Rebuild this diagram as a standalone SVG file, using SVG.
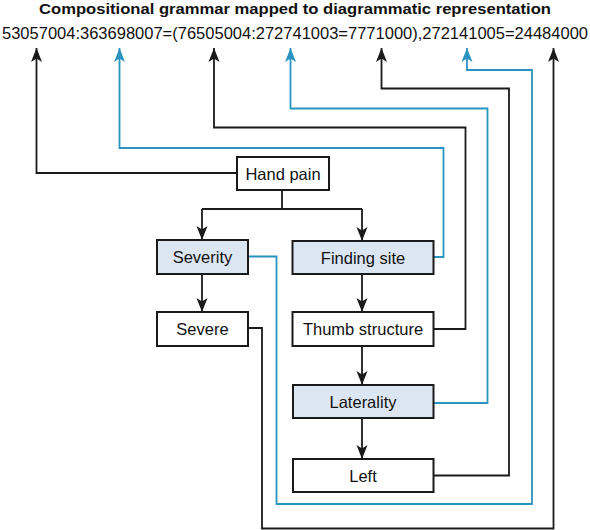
<svg xmlns="http://www.w3.org/2000/svg" width="590" height="530" viewBox="0 0 590 530">
<style>
.t{font-family:"Liberation Sans",Arial,sans-serif;fill:#111}
.box{stroke:#1a1a1a;stroke-width:2}
.w{fill:#fff}
.b{fill:#dce6f2}
.lbl{font-size:16.5px;text-anchor:middle}
.k{fill:none;stroke:#1a1a1a;stroke-width:1.8}
.c{fill:none;stroke:#2a93c0;stroke-width:1.8}
</style>
<defs>
<marker id="ak" markerUnits="userSpaceOnUse" markerWidth="16" markerHeight="12" viewBox="-15 -6 16 12" refX="0" refY="0" orient="auto"><path d="M0,0 L-14,-5.5 L-10.5,0 L-14,5.5 z" fill="#1a1a1a"/></marker>
<marker id="ac" markerUnits="userSpaceOnUse" markerWidth="16" markerHeight="12" viewBox="-15 -6 16 12" refX="0" refY="0" orient="auto"><path d="M0,0 L-14,-5.5 L-10.5,0 L-14,5.5 z" fill="#2a93c0"/></marker>
</defs>
<rect width="590" height="530" fill="#fff"/>
<text class="t" x="295" y="14" font-size="15.5" font-weight="bold" text-anchor="middle" textLength="512" lengthAdjust="spacingAndGlyphs">Compositional grammar mapped to diagrammatic representation</text>
<text class="t" x="2" y="38.5" font-size="16" textLength="586" lengthAdjust="spacingAndGlyphs">53057004:363698007=(76505004:272741003=7771000),272141005=24484000</text>
<g id="connectors">
<path class="k" d="M282,190 V209 M202,209 H362"/>
<path class="k" d="M202,209 V240" marker-end="url(#ak)"/>
<path class="k" d="M362,209 V241" marker-end="url(#ak)"/>
<path class="k" d="M202,274 V312" marker-end="url(#ak)"/>
<path class="k" d="M362,274 V312" marker-end="url(#ak)"/>
<path class="k" d="M362,346 V385" marker-end="url(#ak)"/>
<path class="k" d="M362,418 V459" marker-end="url(#ak)"/>
<path class="k" d="M237,173 H36.5 V48" marker-end="url(#ak)"/>
<path class="c" d="M433,257 H443.5 V148 H119.5 V48" marker-end="url(#ac)"/>
<path class="k" d="M433,329 H465.5 V127.5 H214 V48" marker-end="url(#ak)"/>
<path class="c" d="M433,403 H487.5 V108.5 H290.5 V48" marker-end="url(#ac)"/>
<path class="k" d="M433,475.5 H509 V88.5 H381.5 V48" marker-end="url(#ak)"/>
<path class="c" d="M248,256.5 H276.5 V504 H532 V70 H467 V48" marker-end="url(#ac)"/>
<path class="k" d="M248,328 H262 V528.5 H553.5 V48" marker-end="url(#ak)"/>
</g>
<g id="hand-pain"><rect class="box w" x="237" y="157" width="92" height="33"/><text class="t lbl" x="283" y="179.5">Hand pain</text></g>
<g id="severity"><rect class="box b" x="157" y="240" width="91" height="34"/><text class="t lbl" x="202.5" y="263">Severity</text></g>
<g id="severe"><rect class="box w" x="157" y="312" width="91" height="34"/><text class="t lbl" x="202.5" y="335">Severe</text></g>
<g id="finding-site"><rect class="box b" x="292.5" y="241" width="141" height="33"/><text class="t lbl" x="363" y="263.5">Finding site</text></g>
<g id="thumb-structure"><rect class="box w" x="292.5" y="312" width="141" height="34"/><text class="t lbl" x="363" y="335">Thumb structure</text></g>
<g id="laterality"><rect class="box b" x="293" y="385" width="140.5" height="33"/><text class="t lbl" x="363" y="407.5">Laterality</text></g>
<g id="left"><rect class="box w" x="293" y="459" width="140.5" height="33"/><text class="t lbl" x="363" y="481.5">Left</text></g>
</svg>
